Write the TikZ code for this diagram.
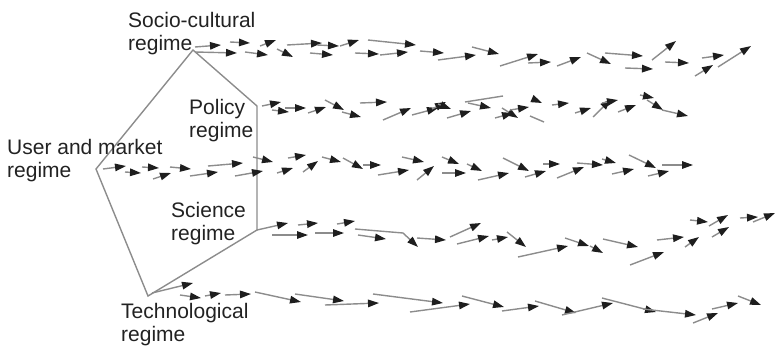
\documentclass[tikz,border=0pt]{standalone}
\usepackage{fontspec}
\setmainfont{Liberation Sans}
\usetikzlibrary{arrows.meta}
\definecolor{txt}{HTML}{222222}
\definecolor{edge}{HTML}{8C8C8C}
\definecolor{head}{HTML}{1E1E1E}
\begin{document}
\begin{tikzpicture}[x=1pt,y=-1pt,
  lab/.style={anchor=north west,inner sep=0pt,align=left,text=txt,font=\fontsize{21}{23}\selectfont},
  shape5/.style={draw=edge,line width=1.4pt,line join=miter},
  arr/.style={draw=edge,line width=1.4pt,-{Triangle[length=11pt,width=7.5pt,color=head,fill=head]}},
  seg/.style={draw=edge,line width=1.4pt}]
\useasboundingbox (0,0) rectangle (775,348);
% pentagon
\coordinate (top) at (193,50);
\coordinate (pol) at (257,106);
\coordinate (sci) at (257,230);
\coordinate (tec) at (148,296);
\coordinate (usr) at (96,169);
\draw[shape5] (top) -- (pol) -- (sci) -- (tec) -- (usr) -- cycle;
% labels
\node[lab] (lsoc) at (128,12) {Socio-cultural\\regime};
\node[lab] (lpol) at (189,99) {Policy\\regime};
\node[lab] (lusr) at (7,139) {User and market\\regime};
\node[lab] (lsci) at (171,202) {Science\\regime};
\node[lab] (ltec) at (121,303) {Technological\\regime};
% row 1
\foreach \a/\b/\c/\d in {195/47/221/45, 195/52/237/53, 230/42/250/43, 260/46/276/40, 245/52/268/55,
  277/49/293/57, 287/45/322/43, 310/53/333/55, 317/45/339/46, 340/46/359/40, 355/53/379/54,
  368/40/416/45, 380/55/408/52, 420/51/444/53, 438/60/476/55, 472/47/499/54, 500/66/538/54,
  528/63/551/62, 557/66/581/57, 587/53/611/64, 605/53/643/56, 625/68/653/69, 652/60/676/41,
  665/62/689/63, 702/58/724/55, 695/76/713/65, 718/67/751/46}
  \draw[arr] (\a,\b) -- (\c,\d);
% row 2
\foreach \a/\b/\c/\d in {262/106/281/102, 272/110/289/112, 285/108/306/108, 308/113/326/107,
  325/100/344/110, 342/112/361/117, 360/103/387/102, 383/120/411/108, 412/115/438/108,
  432/109/446/102, 438/104/451/109, 447/118/471/111, 468/103/491/108, 495/118/513/113,
  502/108/518/118, 510/110/529/107, 533/99/542/103, 552/105/569/103, 575/113/591/108,
  593/117/611/99, 602/103/618/100, 618/112/636/105, 640/95/654/98, 647/100/663/110,
  662/110/688/116}
  \draw[arr] (\a,\b) -- (\c,\d);
\draw[seg] (465,102) -- (503,96);
\draw[seg] (530,116) -- (544,122);
% row 3
\foreach \a/\b/\c/\d in {103/169/126/166, 125/172/141/173, 142/167/159/168, 153/179/171/173,
  170/167/191/169, 190/176/218/172, 208/166/243/163, 235/176/263/171, 253/157/273/162,
  277/173/293/168, 288/158/306/155, 303/172/318/161, 322/157/341/162, 343/158/363/169,
  363/165/381/165, 378/175/409/170, 402/157/424/162, 417/180/434/166, 442/157/459/164,
  442/173/466/173, 467/164/482/171, 478/180/509/173, 503/158/529/171, 525/177/546/171,
  543/164/560/164, 557/178/584/167, 577/163/603/165, 602/159/616/163, 612/174/634/169,
  629/155/656/168, 648/176/669/171, 662/165/693/165}
  \draw[arr] (\a,\b) -- (\c,\d);
% row 4
\foreach \a/\b/\c/\d in {257/230/288/223, 272/235/308/235, 298/225/318/223, 315/233/344/233,
  337/224/355/221, 358/235/386/239, 417/238/446/240, 450/237/481/223, 457/244/489/236,
  492/240/508/237, 507/232/526/247, 518/257/568/246, 565/238/589/246, 590/246/603/253,
  603/239/638/247, 630/265/664/252, 657/240/684/237, 685/247/699/237, 690/220/708/222,
  709/226/728/215, 712/237/729/227, 740/218/758/217, 753/222/775/213}
  \draw[arr] (\a,\b) -- (\c,\d);
\draw[arr] (355,229) -- (403,233) -- (418,247);
% row 5
\foreach \a/\b/\c/\d in {152/293/193/283, 180/295/201/298, 205/296/221/293, 225/295/251/294,
  255/292/301/302, 295/294/344/301, 325/305/379/303, 373/294/443/303, 410/312/470/304,
  462/296/504/307, 502/311/539/306, 535/301/576/313, 562/315/613/303, 602/298/656/312,
  643/309/696/315, 693/323/718/313, 712/309/738/303, 738/296/761/305}
  \draw[arr] (\a,\b) -- (\c,\d);
\end{tikzpicture}
\end{document}
